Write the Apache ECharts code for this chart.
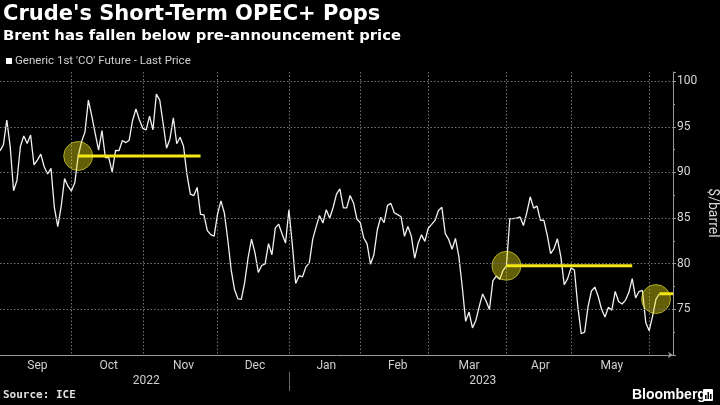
<!DOCTYPE html>
<html><head><meta charset="utf-8">
<script src="https://cdn.jsdelivr.net/npm/echarts@6/dist/echarts.min.js"></script>
<style>html,body{margin:0;padding:0;background:#000;}#c{width:720px;height:405px;}</style>
</head><body><div id="c"></div>
<script>
// Trading days (category axis); last four are empty axis padding
const dates = [
'2022-09-01','2022-09-02','2022-09-05','2022-09-06','2022-09-07','2022-09-08','2022-09-09','2022-09-12','2022-09-13','2022-09-14','2022-09-15','2022-09-16','2022-09-19','2022-09-20','2022-09-21','2022-09-22','2022-09-23','2022-09-26','2022-09-27','2022-09-28','2022-09-29','2022-09-30',
'2022-10-03','2022-10-04','2022-10-05','2022-10-06','2022-10-07','2022-10-10','2022-10-11','2022-10-12','2022-10-13','2022-10-14','2022-10-17','2022-10-18','2022-10-19','2022-10-20','2022-10-21','2022-10-24','2022-10-25','2022-10-26','2022-10-27','2022-10-28','2022-10-31',
'2022-11-01','2022-11-02','2022-11-03','2022-11-04','2022-11-07','2022-11-08','2022-11-09','2022-11-10','2022-11-11','2022-11-14','2022-11-15','2022-11-16','2022-11-17','2022-11-18','2022-11-21','2022-11-22','2022-11-23','2022-11-24','2022-11-25','2022-11-28','2022-11-29','2022-11-30',
'2022-12-01','2022-12-02','2022-12-05','2022-12-06','2022-12-07','2022-12-08','2022-12-09','2022-12-12','2022-12-13','2022-12-14','2022-12-15','2022-12-16','2022-12-19','2022-12-20','2022-12-21','2022-12-22','2022-12-23','2022-12-27','2022-12-28','2022-12-29','2022-12-30',
'2023-01-03','2023-01-04','2023-01-05','2023-01-06','2023-01-09','2023-01-10','2023-01-11','2023-01-12','2023-01-13','2023-01-16','2023-01-17','2023-01-18','2023-01-19','2023-01-20','2023-01-23','2023-01-24','2023-01-25','2023-01-26','2023-01-27','2023-01-30','2023-01-31',
'2023-02-01','2023-02-02','2023-02-03','2023-02-06','2023-02-07','2023-02-08','2023-02-09','2023-02-10','2023-02-13','2023-02-14','2023-02-15','2023-02-16','2023-02-17','2023-02-20','2023-02-21','2023-02-22','2023-02-23','2023-02-24','2023-02-27','2023-02-28',
'2023-03-01','2023-03-02','2023-03-03','2023-03-06','2023-03-07','2023-03-08','2023-03-09','2023-03-10','2023-03-13','2023-03-14','2023-03-15','2023-03-16','2023-03-17','2023-03-20','2023-03-21','2023-03-22','2023-03-23','2023-03-24','2023-03-27','2023-03-28','2023-03-29','2023-03-30','2023-03-31',
'2023-04-03','2023-04-04','2023-04-05','2023-04-06','2023-04-10','2023-04-11','2023-04-12','2023-04-13','2023-04-14','2023-04-17','2023-04-18','2023-04-19','2023-04-20','2023-04-21','2023-04-24','2023-04-25','2023-04-26','2023-04-27','2023-04-28',
'2023-05-01','2023-05-02','2023-05-03','2023-05-04','2023-05-05','2023-05-08','2023-05-09','2023-05-10','2023-05-11','2023-05-12','2023-05-15','2023-05-16','2023-05-17','2023-05-18','2023-05-19','2023-05-22','2023-05-23','2023-05-24','2023-05-25','2023-05-26','2023-05-29','2023-05-30','2023-05-31',
'2023-06-01','2023-06-02','2023-06-05','2023-06-06','2023-06-07','2023-06-08','2023-06-09'
];

// Generic 1st 'CO' Future - Last Price ($/barrel)
const brent = [
92.36,93.02,95.74,92.83,88.00,89.15,92.84,94.00,93.17,94.10,90.84,91.35,92.00,90.62,89.83,90.46,86.15,84.06,86.27,89.32,88.49,87.96,
88.86,91.80,93.37,94.42,97.92,96.19,94.29,92.45,94.57,91.63,91.62,90.03,92.41,92.38,93.50,93.26,93.52,95.69,96.96,95.77,94.83,
94.65,96.16,94.67,98.57,97.92,95.36,92.65,93.67,95.99,93.14,93.86,92.86,89.78,87.62,87.45,88.36,85.41,85.34,83.63,83.19,83.03,85.43,
86.88,85.57,82.68,79.35,77.17,76.15,76.10,77.99,80.68,82.70,81.21,79.04,79.80,79.99,82.20,80.98,83.92,84.33,83.26,82.26,85.91,
82.10,77.84,78.69,78.57,79.65,80.10,82.67,84.03,85.28,84.46,85.92,84.98,86.16,87.63,88.19,86.13,86.12,87.47,86.66,84.90,84.49,
82.84,82.17,79.94,80.99,83.69,85.09,84.50,86.39,86.61,85.58,85.38,85.14,83.00,84.07,83.05,80.60,82.21,83.16,82.45,83.89,
84.31,84.75,85.83,86.18,83.29,82.66,81.59,82.78,80.77,77.45,73.69,74.70,72.97,73.79,75.32,76.69,75.91,74.99,78.12,78.65,78.28,79.27,79.77,
84.93,84.94,84.99,85.12,84.18,85.61,87.33,86.09,86.31,84.76,84.77,83.12,81.10,81.66,82.73,80.77,77.69,78.37,79.54,
79.31,75.32,72.33,72.50,75.30,77.01,77.44,76.41,74.98,74.17,75.23,74.91,76.96,75.86,75.58,75.99,76.84,78.36,76.26,76.95,77.07,73.54,72.66,
74.28,76.13,76.71
];

// OPEC+ announcement markers: pre-announcement close and the level carried forward
const markDates  = ['2022-10-04','2023-03-31','2023-06-02'];
const levelStart = ['2022-10-04','2023-03-31','2023-06-05'];
const levelEnd   = ['2022-11-23','2023-05-24','2023-06-09'];
const levelValue = [91.80, 79.77, 76.71];

const yTicks = [75, 80, 85, 90, 95, 100];
const yMin = 70, yMax = 101;
const yName = '$/barrel';
const monthNames = ['Jan','Feb','Mar','Apr','May','Jun','Jul','Aug','Sep','Oct','Nov','Dec'];

// derived: month-end indices (grid lines), mid-month label indices, year labels
const monthEnds = new Set();
for (let i = 0; i < brent.length - 1; i++) {
  if (dates[i].slice(0,7) !== dates[i+1].slice(0,7)) monthEnds.add(i);
}
function groups(keyLen) {
  const g = {};
  dates.forEach((d, i) => { const k = d.slice(0, keyLen); (g[k] = g[k] || []).push(i); });
  return g;
}
const monthMid = new Map();
Object.entries(groups(7)).forEach(([k, idx]) => {
  if (idx.length >= 10) monthMid.set(Math.round((idx[0] + idx[idx.length-1]) / 2), monthNames[+k.slice(5,7) - 1]);
});
const yearMid = new Map(); const yearEnds = new Set();
Object.entries(groups(4)).forEach(([k, idx]) => {
  yearMid.set(Math.round((idx[0] + idx[idx.length-1]) / 2), k);
  if (idx[idx.length-1] < dates.length - 1) yearEnds.add(idx[idx.length-1]);
});

const chart = echarts.init(document.getElementById('c'), null, {renderer: 'canvas'});
const labelFont = 'Roboto, "Liberation Sans", sans-serif';
const gridColor = '#737373';

const series = [
  { // horizontal grid lines
    type: 'line', data: brent, showSymbol: false, silent: true, z: 1,
    lineStyle: {opacity: 0},
    markLine: {silent: true, symbol: 'none', label: {show: false}, animation: false,
      lineStyle: {color: gridColor, type: [1.5, 2], width: 1},
      data: yTicks.map(v => ({yAxis: v}))}
  },
  {
    name: "Generic 1st 'CO' Future - Last Price",
    type: 'line', data: brent, showSymbol: false, z: 3,
    lineStyle: {color: '#f2f2f2', width: 1.3}, itemStyle: {color: '#f2f2f2'}
  },
  {
    type: 'scatter', z: 4, silent: true,
    data: markDates.map(d => [d, brent[dates.indexOf(d)]]),
    symbolSize: 29,
    itemStyle: {color: 'rgba(238,228,20,0.52)', borderColor: 'rgba(245,235,60,0.75)', borderWidth: 1}
  }
];
levelValue.forEach((v, k) => {
  series.push({
    type: 'line', z: 5, silent: true, showSymbol: false,
    data: [[levelStart[k], v], [levelEnd[k], v]],
    lineStyle: {color: '#f5e616', width: 3}
  });
});

chart.setOption({
  backgroundColor: '#000',
  animation: false,
  grid: {left: 0, right: 47, top: 72, bottom: 50, containLabel: false, outerBoundsMode: 'none'},
  xAxis: [
    {
      type: 'category', data: dates, boundaryGap: false,
      axisLine: {show: true, lineStyle: {color: '#9a9a9a', width: 1}, symbol: ['none', 'arrow'], symbolSize: [5, 5]},
      axisTick: {show: false},
      splitLine: {show: true, interval: (i) => monthEnds.has(i), lineStyle: {color: gridColor, type: [1.5, 2], width: 1}},
      axisLabel: {interval: (i) => monthMid.has(i), formatter: (v, i) => monthMid.get(i) || '',
        color: '#d0d0d0', fontSize: 12, fontFamily: labelFont, margin: 5}
    },
    {
      type: 'category', data: dates, boundaryGap: false, position: 'bottom', offset: 17,
      axisLine: {show: false},
      axisTick: {show: true, interval: (i) => yearEnds.has(i), length: 19, lineStyle: {color: '#6a6a6a'}},
      splitLine: {show: false},
      axisLabel: {interval: (i) => yearMid.has(i), formatter: (v, i) => yearMid.get(i) || '',
        color: '#d0d0d0', fontSize: 12, fontFamily: labelFont, margin: 3}
    }
  ],
  yAxis: {
    type: 'value', position: 'right', min: yMin, max: yMax, interval: 5,
    axisLine: {show: true, lineStyle: {color: '#9a9a9a'}},
    axisTick: {show: true, length: 3, lineStyle: {color: '#9a9a9a'}},
    minorTick: {show: true, splitNumber: 2, length: 2, lineStyle: {color: '#9a9a9a'}},
    splitLine: {show: false},
    axisLabel: {formatter: (v) => yTicks.includes(v) ? String(v) : '', color: '#d8d8d8', fontSize: 12, fontFamily: labelFont, margin: 4}
  },
  series: series,
  graphic: [
    {type: 'text', left: 3, top: 4, style: {text: "Crude's Short-Term OPEC+ Pops", fill: '#ffffff', font: 'bold 21px "DejaVu Sans", sans-serif'}},
    {type: 'text', left: 3, top: 29, style: {text: 'Brent has fallen below pre-announcement price', fill: '#ffffff', font: 'bold 14.8px "DejaVu Sans", sans-serif'}},
    {type: 'rect', left: 6, top: 58, shape: {width: 6, height: 6}, style: {fill: '#ffffff'}},
    {type: 'text', left: 15, top: 55, style: {text: "Generic 1st 'CO' Future - Last Price", fill: '#d0d0d0', font: '11.5px Roboto, sans-serif'}},
    {type: 'text', x: 712, y: 213, rotation: -Math.PI / 2,
      style: {text: yName, fill: '#d8d8d8', font: '14px Roboto, sans-serif', align: 'center', verticalAlign: 'middle'}},
    {type: 'text', left: 3, top: 390, style: {text: 'Source: ICE', fill: '#e0e0e0', font: 'bold 11px "DejaVu Sans Mono", monospace'}},
    {type: 'text', left: 632, top: 388, style: {text: 'Bloomberg', fill: '#ffffff', font: 'bold 14px "Liberation Sans", sans-serif'}},
    {type: 'rect', left: 703, top: 389, shape: {width: 10, height: 12, r: 1}, style: {fill: '#ffffff'}},
    {type: 'rect', left: 705, top: 395, shape: {width: 1.5, height: 4}, style: {fill: '#000'}},
    {type: 'rect', left: 707.5, top: 392, shape: {width: 1.5, height: 7}, style: {fill: '#000'}},
    {type: 'rect', left: 710, top: 394, shape: {width: 1.5, height: 5}, style: {fill: '#000'}}
  ]
});
</script></body></html>
